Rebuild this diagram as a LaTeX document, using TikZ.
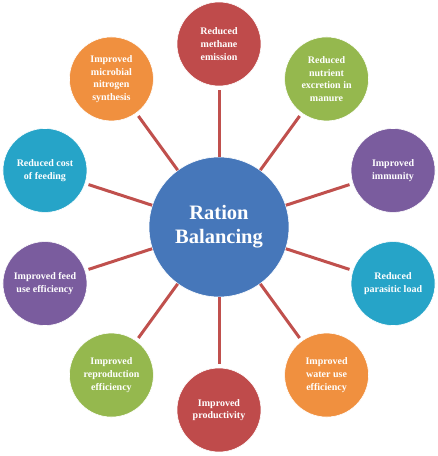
\documentclass[tikz,border=0pt]{standalone}
\usepackage{fontspec}
\setmainfont{Liberation Serif}
\usetikzlibrary{calc}
\definecolor{cblue}{HTML}{4677BA}
\definecolor{cred}{HTML}{BF4B4B}
\definecolor{cgreen}{HTML}{95B84E}
\definecolor{cpurple}{HTML}{7A5C9E}
\definecolor{ccyan}{HTML}{26A4C8}
\definecolor{corange}{HTML}{F0903F}
\definecolor{clink}{HTML}{C0504D}
\tikzset{
  hub/.style={circle, fill=cblue, draw=white, line width=0.6pt, minimum size=140pt, inner sep=0pt,
    text=white, align=center, font=\bfseries\fontsize{20.5}{24}\selectfont},
  leaf/.style={circle, fill=#1, draw=white, line width=0.6pt, minimum size=84pt, inner sep=0pt,
    text=white, align=center, font=\bfseries\fontsize{10}{12.6}\selectfont},
  link/.style={draw=clink, line width=3pt, shorten >=3.5pt}
}
\begin{document}
\begin{tikzpicture}[x=1pt,y=1pt]
\useasboundingbox (0,0) rectangle (438,456);
\node[hub] (c) at (219,229) {Ration\\Balancing};
\node[leaf=cred]    (n1)  at ($(c)+(90:183)$)  {Reduced\\methane\\emission};
\node[leaf=corange] (n2)  at ($(c)+(126:183)$) {Improved\\microbial\\nitrogen\\synthesis};
\node[leaf=ccyan]   (n3)  at ($(c)+(162:183)$) {Reduced cost\\of feeding};
\node[leaf=cpurple] (n4)  at ($(c)+(198:183)$) {Improved feed\\use efficiency};
\node[leaf=cgreen]  (n5)  at ($(c)+(234:183)$) {Improved\\reproduction\\efficiency};
\node[leaf=cred]    (n6)  at ($(c)+(270:183)$) {Improved\\productivity};
\node[leaf=corange] (n7)  at ($(c)+(306:183)$) {Improved\\water use\\efficiency};
\node[leaf=ccyan]   (n8)  at ($(c)+(342:183)$) {Reduced\\parasitic load};
\node[leaf=cpurple] (n9)  at ($(c)+(18:183)$)  {Improved\\immunity};
\node[leaf=cgreen]  (n10) at ($(c)+(54:183)$)  {Reduced\\nutrient\\excretion in\\manure};
\foreach \i in {1,...,10} {\draw[link] (c) -- (n\i);}
\end{tikzpicture}
\end{document}
